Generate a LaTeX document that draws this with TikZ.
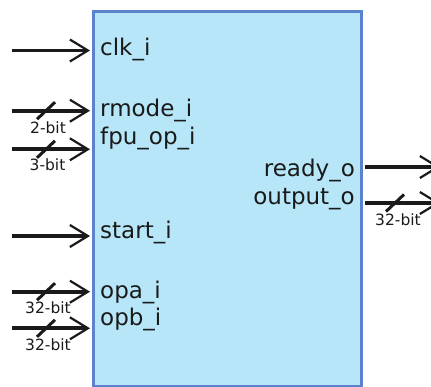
\documentclass[tikz,border=0pt]{standalone}
\usepackage{fontspec}
\setmainfont{DejaVu Sans}
\usetikzlibrary{arrows.meta}
\definecolor{boxfill}{HTML}{B6E6F8}
\definecolor{boxedge}{HTML}{5B82CC}
\definecolor{ink}{HTML}{1A1A1A}

\begin{document}
\begin{tikzpicture}[x=1pt,y=-1pt,
  port/.style={font=\fontsize{23}{27}\selectfont, inner sep=0pt, text=ink},
  wire/.style={draw=ink, line width=3.8pt,
    -{Straight Barb[length=18pt,width=22pt,line width=2.2pt]}},
  busmark/.style={draw=ink, line width=3pt},
  buswidth/.style={font=\fontsize{15.5}{18}\selectfont, inner sep=0pt, text=ink}]
\useasboundingbox (0,0) rectangle (431,387);

% the FPU block
\node[draw=boxedge, fill=boxfill, line width=3pt, minimum width=268.5pt,
      minimum height=375.3pt, inner sep=0pt, anchor=north west] (blk) at (91.5,10) {};

% port names
\node[port, anchor=base west] (tclk)   at (100,56)  {clk\_i};
\node[port, anchor=base west] (trmode) at (100,117) {rmode\_i};
\node[port, anchor=base west] (tfpuop) at (100,145) {fpu\_op\_i};
\node[port, anchor=base west] (tstart) at (100,239) {start\_i};
\node[port, anchor=base west] (topa)   at (100,299) {opa\_i};
\node[port, anchor=base west] (topb)   at (100,325) {opb\_i};
\node[port, anchor=base east] (tready) at (355,177) {ready\_o};
\node[port, anchor=base east] (tout)   at (355,205) {output\_o};

% free ends of the wires
\coordinate (clk)   at (12,50.5);
\coordinate (rmode) at (12,110.7);
\coordinate (fpuop) at (12,149.3);
\coordinate (start) at (12,236);
\coordinate (opa)   at (12,291.7);
\coordinate (opb)   at (12,328.3);
\coordinate (ready) at (440,167);
\coordinate (outp)  at (440,203);

% input wires
\foreach \w in {clk,rmode,fpuop,start,opa,opb}
  \draw[wire] (\w) -- ([xshift=-1.5pt]\w -| blk.west);

% output wires
\draw[wire] ([xshift=1.5pt]ready -| blk.east) -- (ready);
\draw[wire] ([xshift=1.5pt]outp -| blk.east) -- (outp);

% bus width marks
\draw[busmark] (37,119.2) -- (55,102.2);
\node[buswidth] (wrmode) at (48,128) {2-bit};
\draw[busmark] (37,157.8) -- (55,140.8);
\node[buswidth] (wfpuop) at (47.5,165) {3-bit};
\draw[busmark] (37,300.2) -- (55,283.2);
\node[buswidth] (wopa) at (48,308) {32-bit};
\draw[busmark] (37,336.8) -- (55,319.8);
\node[buswidth] (wopb) at (48,345) {32-bit};
\draw[busmark] (386,211.5) -- (404,194.5);
\node[buswidth] (wout) at (398,220) {32-bit};
\end{tikzpicture}
\end{document}
